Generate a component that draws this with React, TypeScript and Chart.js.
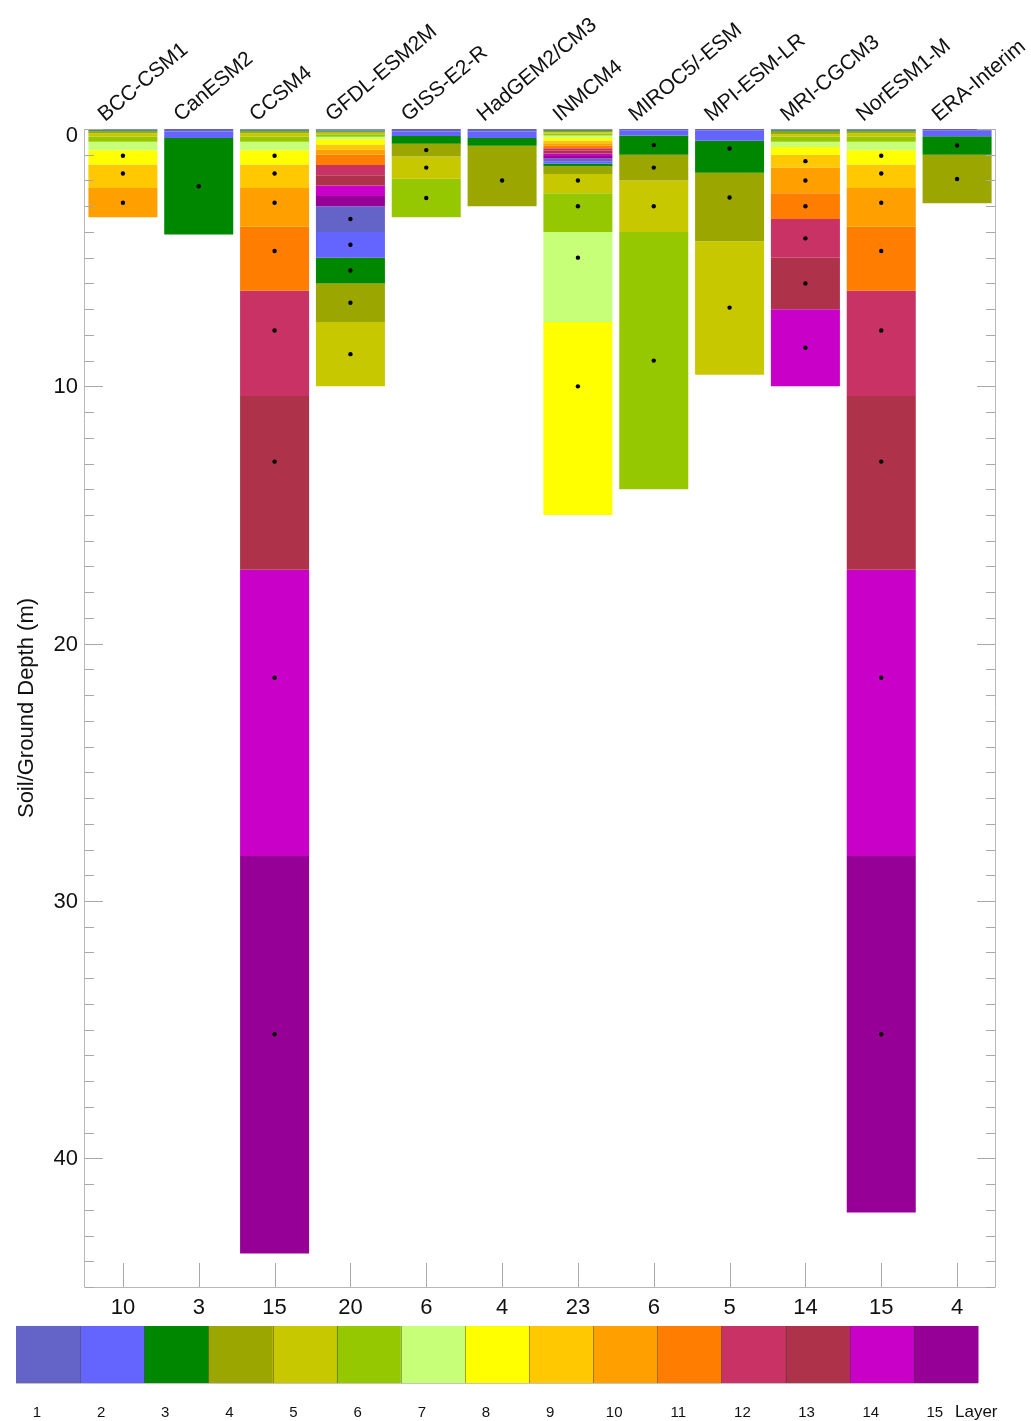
import React, { useEffect, useRef } from 'react';
import { Chart, registerables } from 'chart.js';

Chart.register(...registerables);

// Models shown along the top of the chart
const models = [
  'BCC-CSM1', 'CanESM2', 'CCSM4', 'GFDL-ESM2M', 'GISS-E2-R', 'HadGEM2/CM3',
  'INMCM4', 'MIROC5/-ESM', 'MPI-ESM-LR', 'MRI-CGCM3', 'NorESM1-M', 'ERA-Interim',
];

// Bottom depth (m) of every soil layer, top to bottom
const bccCsm1Bottoms = [0.0175, 0.0451, 0.0906, 0.1655, 0.2891, 0.4929, 0.8289, 1.3828, 2.2961, 3.4331];
const canEsm2Bottoms = [0.1, 0.35, 4.1];
const ccsm4Bottoms = [0.0175, 0.0451, 0.0906, 0.1655, 0.2891, 0.4929, 0.8289, 1.3828, 2.2961, 3.8019, 6.2845, 10.3775, 17.1259, 28.252, 43.7];
const gfdlEsm2mBottoms = [0.02, 0.06, 0.1, 0.15, 0.2, 0.3, 0.4, 0.6, 0.8, 1.0, 1.4, 1.8, 2.2, 2.6, 3.0, 4.0, 5.0, 6.0, 7.5, 10.0];
const gissE2rBottoms = [0.1, 0.27, 0.57, 1.07, 1.93, 3.43];
const hadgem2Bottoms = [0.1, 0.35, 0.65, 3.0];
const inmcm4Bottoms = [0.02, 0.045, 0.08, 0.125, 0.175, 0.25, 0.35, 0.45, 0.55, 0.65, 0.75, 0.85, 0.95, 1.05, 1.15, 1.25, 1.35, 1.45, 1.75, 2.5, 4.0, 7.5, 15.0];
const miroc5Bottoms = [0.05, 0.25, 1.0, 2.0, 4.0, 14.0];
const mpiEsmLrBottoms = [0.065, 0.46, 1.7, 4.36, 9.55];
const mriCgcm3Bottoms = [0.02, 0.05, 0.1, 0.2, 0.3, 0.5, 0.7, 1.0, 1.5, 2.5, 3.5, 5.0, 7.0, 10.0];
const norEsm1mBottoms = [0.0175, 0.0451, 0.0906, 0.1655, 0.2891, 0.4929, 0.8289, 1.3828, 2.2961, 3.8019, 6.2845, 10.3775, 17.1259, 28.252, 42.1032];
const eraInterimBottoms = [0.07, 0.28, 1.0, 2.89];

// Node depths (m) marked with a dot in the thicker layers
const bccCsm1Nodes = [1.038, 1.7276, 2.8646];
const canEsm2Nodes = [2.225];
const ccsm4Nodes = [1.038, 1.7276, 2.8646, 4.7392, 7.8298, 12.9253, 21.3264, 35.1776];
const gfdlEsm2mNodes = [3.5, 4.5, 5.5, 6.75, 8.75];
const gissE2rNodes = [0.82, 1.5, 2.68];
const hadgem2Nodes = [2.0];
const inmcm4Nodes = [2.0, 3.0, 5.0, 10.0];
const miroc5Nodes = [0.625, 1.5, 3.0, 9.0];
const mpiEsmLrNodes = [0.76, 2.66, 6.94];
const mriCgcm3Nodes = [1.25, 2.0, 3.0, 4.25, 6.0, 8.5];
const norEsm1mNodes = [1.038, 1.7276, 2.8646, 4.7392, 7.8298, 12.9253, 21.3264, 35.1776];
const eraInterimNodes = [0.64, 1.945];

const layerBottoms = [
  bccCsm1Bottoms, canEsm2Bottoms, ccsm4Bottoms, gfdlEsm2mBottoms, gissE2rBottoms, hadgem2Bottoms,
  inmcm4Bottoms, miroc5Bottoms, mpiEsmLrBottoms, mriCgcm3Bottoms, norEsm1mBottoms, eraInterimBottoms,
];
const nodeDepths = [
  bccCsm1Nodes, canEsm2Nodes, ccsm4Nodes, gfdlEsm2mNodes, gissE2rNodes, hadgem2Nodes,
  inmcm4Nodes, miroc5Nodes, mpiEsmLrNodes, mriCgcm3Nodes, norEsm1mNodes, eraInterimNodes,
];

// Layer colour table (layers past 15 reuse it from the start)
const layerColors = [
  '#6464c8', '#6464ff', '#008700', '#9ba600', '#c8c800', '#96c800', '#c8ff78', '#ffff00',
  '#ffc800', '#ffa000', '#ff7d00', '#c83264', '#af324b', '#c800c8', '#960096',
];
const layerTickLabels = ['1', '2', '3', '4', '5', '6', '7', '8', '9', '10', '11', '12', '13', '14', '15'];
const depthTickValues = [0, 10, 20, 30, 40];

const FONT = '"Liberation Sans", Arial, Helvetica, sans-serif';

const maxLayers = Math.max(...layerBottoms.map((b) => b.length));

const layerDatasets = Array.from({ length: maxLayers }, (_, k) => ({
  type: 'bar' as const,
  label: `Layer ${k + 1}`,
  data: layerBottoms.map((b) => (k < b.length ? [k === 0 ? 0 : b[k - 1], b[k]] : null)),
  backgroundColor: layerColors[k % layerColors.length],
  borderWidth: 0,
  borderSkipped: false,
  barPercentage: 0.91,
  categoryPercentage: 1.0,
  order: 1,
}));

const nodeDataset = {
  type: 'scatter' as const,
  label: 'Nodes',
  data: nodeDepths.flatMap((nodes, i) => nodes.map((d) => ({ x: models[i], y: d }))),
  backgroundColor: '#000',
  borderWidth: 0,
  pointRadius: 2.2,
  order: 0,
};

const decorPlugin = {
  id: 'soilDecor',
  afterDraw(chart: any) {
    const ctx: CanvasRenderingContext2D = chart.ctx;
    const xs = chart.scales.x;
    const ys = chart.scales.y;
    const { left, right, top, bottom } = chart.chartArea;
    ctx.save();

    // Frame
    ctx.strokeStyle = '#b8b8b8';
    ctx.lineWidth = 1;
    ctx.beginPath();
    ctx.moveTo(left - 0.5, top);
    ctx.lineTo(left - 0.5, bottom + 0.5);
    ctx.lineTo(right + 0.5, bottom + 0.5);
    ctx.lineTo(right + 0.5, top);
    ctx.stroke();

    // Depth ticks on both sides, pointing inward
    ctx.strokeStyle = '#a8a8a8';
    ctx.beginPath();
    for (let v = 0; v <= ys.max; v += 1) {
      const py = Math.round(ys.getPixelForValue(v)) + 0.5;
      const len = v % 10 === 0 ? 18 : 9;
      ctx.moveTo(left, py);
      ctx.lineTo(left + len, py);
      ctx.moveTo(right, py);
      ctx.lineTo(right - len, py);
    }
    // Category ticks along the bottom
    models.forEach((_, i) => {
      const px = Math.round(xs.getPixelForValue(i)) + 0.5;
      ctx.moveTo(px, bottom);
      ctx.lineTo(px, bottom - 24);
    });
    ctx.stroke();

    // Depth labels
    ctx.fillStyle = '#111';
    ctx.font = `22px ${FONT}`;
    ctx.textAlign = 'right';
    ctx.textBaseline = 'middle';
    depthTickValues.forEach((v) => {
      const py = Math.max(ys.getPixelForValue(v), top + 6);
      ctx.fillText(String(v), left - 7, py + 1);
    });

    // Axis title
    ctx.save();
    ctx.translate(27, (top + bottom) / 2);
    ctx.rotate(-Math.PI / 2);
    ctx.textAlign = 'center';
    ctx.textBaseline = 'middle';
    ctx.font = `22px ${FONT}`;
    ctx.fillText('Soil/Ground Depth (m)', 0, 0);
    ctx.restore();

    // Number of layers under each column
    ctx.font = `22px ${FONT}`;
    ctx.textAlign = 'center';
    ctx.textBaseline = 'middle';
    layerBottoms.forEach((b, i) => {
      ctx.fillText(String(b.length), xs.getPixelForValue(i), bottom + 21);
    });

    // Model names, slanted above the columns
    ctx.font = `21px ${FONT}`;
    ctx.textAlign = 'left';
    ctx.textBaseline = 'alphabetic';
    models.forEach((name, i) => {
      ctx.save();
      ctx.translate(xs.getPixelForValue(i) - 18, top - 7);
      ctx.rotate((-40 * Math.PI) / 180);
      ctx.fillText(name, 0, 0);
      ctx.restore();
    });

    // Layer colour bar
    const cbLeft = 16;
    const cbRight = 978;
    const cbTop = 1326;
    const cbBottom = 1383;
    const cellW = (cbRight - cbLeft) / layerColors.length;
    layerColors.forEach((c, k) => {
      ctx.fillStyle = c;
      ctx.fillRect(cbLeft + k * cellW, cbTop, cellW + 0.5, cbBottom - cbTop);
    });
    ctx.strokeStyle = 'rgba(60,60,60,0.45)';
    ctx.beginPath();
    for (let k = 1; k < layerColors.length; k++) {
      const px = Math.round(cbLeft + k * cellW) + 0.5;
      ctx.moveTo(px, cbTop);
      ctx.lineTo(px, cbBottom);
    }
    ctx.stroke();
    ctx.strokeStyle = 'rgba(180,180,180,0.8)';
    ctx.beginPath();
    ctx.moveTo(cbLeft, cbBottom + 0.5);
    ctx.lineTo(cbRight, cbBottom + 0.5);
    ctx.stroke();

    ctx.fillStyle = '#111';
    ctx.font = `15px ${FONT}`;
    ctx.textAlign = 'center';
    ctx.textBaseline = 'middle';
    layerTickLabels.forEach((t, k) => {
      ctx.fillText(t, cbLeft + k * cellW + 21, 1413);
    });
    ctx.font = `17px ${FONT}`;
    ctx.textAlign = 'left';
    ctx.fillText('Layer', 955, 1412);

    ctx.restore();
  },
};

export default function App() {
  const canvasRef = useRef<HTMLCanvasElement>(null);

  useEffect(() => {
    if (!canvasRef.current) return;
    const chart = new Chart(canvasRef.current, {
      type: 'bar',
      data: {
        labels: models,
        datasets: [nodeDataset as any, ...layerDatasets],
      },
      options: {
        animation: false,
        responsive: false,
        layout: { padding: { left: 85, right: 36, top: 129, bottom: 134 } },
        plugins: { legend: { display: false }, tooltip: { enabled: false } },
        scales: {
          x: { type: 'category', stacked: true, offset: true, display: false },
          y: { type: 'linear', min: 0, max: 45, reverse: true, stacked: false, display: false },
        },
      },
      plugins: [decorPlugin],
    });
    return () => chart.destroy();
  }, []);

  return (
    <div style={{ position: 'absolute', left: 0, top: 0, width: 1031, height: 1421, background: '#fff' }}>
      <canvas ref={canvasRef} width={1031} height={1421} style={{ display: 'block', width: 1031, height: 1421 }} />
    </div>
  );
}
